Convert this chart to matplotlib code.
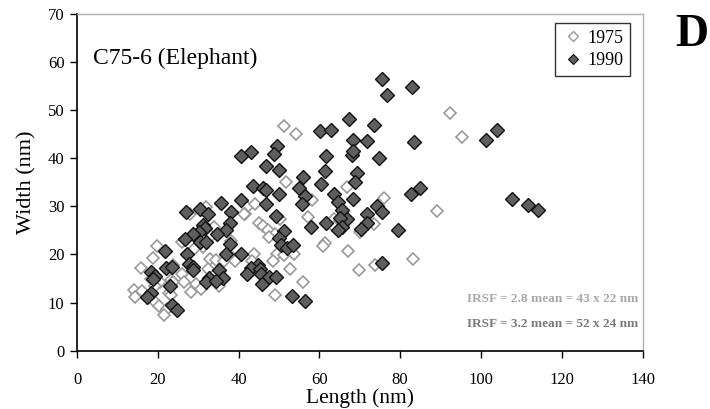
import matplotlib
matplotlib.use("Agg")
import matplotlib.pyplot as plt
from matplotlib.lines import Line2D

# Particle sizes, sample C75-6 (Elephant)
len_1975 = [92.4, 51.2, 54.2, 95.4, 51.7, 66.9, 76.0, 58.1, 31.9, 42.2, 44.0, 41.7, 41.3,
            89.0, 28.0, 57.2, 63.5, 50.3, 73.4, 34.0, 45.0, 46.0, 47.2, 63.5, 70.0, 48.9,
            47.5, 33.2, 26.0, 31.2, 29.0, 19.7, 61.4, 61.0, 67.1, 38.1, 43.8, 49.6, 51.2,
            53.6, 18.7, 32.9, 34.4, 36.5, 38.6, 39.1, 43.3, 48.4, 83.1, 73.7, 15.8, 23.8,
            52.7, 69.8, 32.4, 26.0, 18.4, 23.2, 23.8, 20.6, 19.4, 26.4, 29.4, 30.8, 35.1,
            55.9, 14.1, 16.0, 28.3, 22.7, 23.3, 14.4, 49.0, 19.3, 20.2, 22.2, 21.6]
wid_1975 = [49.5, 46.8, 45.1, 44.5, 35.0, 34.0, 31.8, 31.3, 29.9, 29.9, 30.4, 28.5, 28.4,
            29.0, 28.4, 27.7, 27.4, 27.3, 26.4, 25.7, 26.6, 26.0, 25.0, 25.7, 24.6, 24.3,
            23.7, 23.9, 22.5, 21.6, 21.2, 21.8, 22.4, 21.7, 20.8, 22.9, 20.1, 20.2, 19.9,
            20.2, 19.3, 19.1, 18.9, 18.7, 19.2, 18.7, 18.6, 18.7, 19.1, 17.8, 17.2, 17.8,
            16.9, 16.7, 16.9, 15.9, 15.0, 14.8, 14.3, 14.2, 13.4, 14.2, 13.9, 12.9, 13.4,
            14.3, 12.7, 12.4, 12.2, 11.9, 11.5, 11.1, 11.6, 10.2, 9.3, 8.6, 7.5]

len_1990 = [75.5, 83.0, 76.7, 67.4, 73.4, 60.1, 62.9, 104.0, 101.2, 68.3, 71.8, 83.3, 49.6,
            43.1, 40.7, 48.8, 61.7, 68.0, 68.2, 74.7, 46.7, 50.1, 61.3, 69.4, 68.9, 56.0,
            60.3, 55.0, 43.6, 46.1, 46.8, 49.9, 56.5, 63.5, 82.7, 85.0, 40.5, 64.6, 68.2,
            107.8, 111.6, 114.2, 35.6, 46.8, 55.8, 74.2, 75.5, 26.9, 30.5, 38.1, 32.4, 65.5,
            71.8, 49.3, 66.9, 65.1, 61.7, 71.8, 37.8, 31.3, 31.8, 57.9, 65.6, 64.7, 70.2,
            79.4, 51.3, 37.0, 30.1, 28.7, 34.6, 50.0, 26.7, 30.4, 32.0, 50.5, 52.1, 53.5,
            37.9, 21.7, 27.2, 36.8, 40.7, 27.6, 75.5, 28.6, 28.8, 22.1, 23.6, 18.4, 19.4,
            18.9, 35.2, 44.9, 43.1, 45.4, 42.1, 45.5, 47.4, 49.3, 32.6, 36.1, 31.9, 34.3,
            45.8, 23.0, 18.2, 17.3, 53.1, 23.6, 24.8, 56.5]
wid_1990 = [56.4, 54.9, 53.1, 48.2, 46.9, 45.7, 45.9, 45.9, 43.7, 43.7, 43.5, 43.4, 42.5,
            41.2, 40.4, 40.8, 40.5, 40.6, 41.6, 40.0, 38.3, 37.5, 37.4, 36.9, 35.1, 36.2,
            34.6, 33.8, 34.2, 33.9, 33.3, 32.6, 32.2, 32.6, 32.6, 33.8, 31.4, 30.9, 31.5,
            31.5, 30.2, 29.3, 30.6, 30.5, 30.5, 30.0, 28.9, 28.8, 29.5, 28.8, 28.4, 29.3,
            28.5, 28.0, 27.3, 27.6, 26.6, 26.6, 26.6, 26.1, 25.6, 25.7, 25.7, 25.0, 25.2,
            25.0, 24.8, 25.0, 24.6, 24.2, 24.3, 23.5, 23.2, 22.5, 22.5, 21.9, 21.4, 22.0,
            22.1, 20.8, 20.2, 20.2, 20.1, 18.1, 18.3, 17.3, 16.7, 17.2, 17.4, 16.4, 15.6,
            14.9, 16.7, 17.8, 17.2, 17.0, 16.0, 15.9, 15.4, 15.4, 15.1, 15.1, 14.3, 14.5,
            13.8, 13.4, 11.9, 11.1, 11.3, 9.6, 8.4, 10.3]

series_labels = ["1975", "1990"]
x_ticks = [0, 20, 40, 60, 80, 100, 120, 140]
y_ticks = [0, 10, 20, 30, 40, 50, 60, 70]
stats_lines = ["IRSF = 2.8 mean = 43 x 22 nm", "IRSF = 3.2 mean = 52 x 24 nm"]

plt.rcParams["font.family"] = ["Liberation Serif", "DejaVu Serif"]

fig = plt.figure(figsize=(7.1, 4.09), dpi=100)
ax = fig.add_axes([0.1085, 0.1425, 0.7965, 0.8235])

open_style = dict(marker="D", linestyle="none", markersize=6.5,
                  markerfacecolor="white", markeredgecolor="#9a9a9a", markeredgewidth=1.2)
fill_style = dict(marker="D", linestyle="none", markersize=7,
                  markerfacecolor="#5e5e5e", markeredgecolor="#111111", markeredgewidth=1.0)

ax.plot(len_1975, wid_1975, **open_style)
ax.plot(len_1990, wid_1990, **fill_style)

ax.set_xlim(0, 140)
ax.set_ylim(0, 70)
ax.set_xticks(x_ticks)
ax.set_yticks(y_ticks)
ax.tick_params(direction="out", length=5, width=1, labelsize=12, colors="black")
ax.tick_params(axis="x", pad=10)
ax.tick_params(axis="y", pad=4)
for side in ("top", "right"):
    ax.spines[side].set_color("#b0b0b0")
    ax.spines[side].set_linewidth(1.0)
for side in ("left", "bottom"):
    ax.spines[side].set_color("black")
    ax.spines[side].set_linewidth(1.2)

ax.set_xlabel("Length (nm)", fontsize=15.5)
ax.xaxis.set_label_coords(0.5, -0.142)
ax.xaxis.label.set_va("center")
ax.set_ylabel("Width (nm)", fontsize=16, labelpad=8)

ax.text(3.9, 60.7, "C75-6 (Elephant)", fontsize=17, va="center", ha="left")

handles = [
    Line2D([], [], marker="D", linestyle="none", markersize=5, markerfacecolor="white",
           markeredgecolor="#9a9a9a", markeredgewidth=1.0),
    Line2D([], [], marker="D", linestyle="none", markersize=5.5, markerfacecolor="#5e5e5e",
           markeredgecolor="#111111", markeredgewidth=0.8),
]
leg = ax.legend(handles, series_labels, loc="upper right", bbox_to_anchor=(0.985, 0.985),
                fontsize=13, frameon=True, fancybox=False, handlelength=1.2,
                handletextpad=0.2, borderpad=0.4, labelspacing=0.3, borderaxespad=0.2)
leg.get_frame().set_edgecolor("black")
leg.get_frame().set_linewidth(1.0)

ax.text(139.0, 10.7, stats_lines[0], fontsize=9.5, fontweight="bold", color="#a8a8a8",
        ha="right", va="center")
ax.text(139.0, 5.5, stats_lines[1], fontsize=9.5, fontweight="bold", color="#7a7a7a",
        ha="right", va="center")

fig.text(0.975, 0.915, "D", fontsize=33, fontweight="bold", ha="center", va="center")

fig.savefig("out.png", dpi=100)
